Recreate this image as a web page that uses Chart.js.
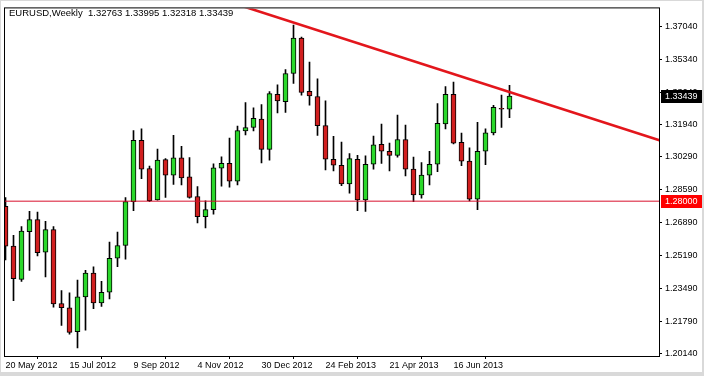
<!DOCTYPE html>
<html><head><meta charset="utf-8">
<script src="https://cdn.jsdelivr.net/npm/chart.js@4/dist/chart.umd.min.js"></script>
<style>html,body{margin:0;padding:0;background:#fff;}canvas{display:block;}</style>
</head><body>
<canvas id="c" width="704" height="376"></canvas>
<script>
// ---- data (EURUSD weekly, one bar per week starting 20 May 2012) ----
const chartTitle = "EURUSD,Weekly  1.32763 1.33995 1.32318 1.33439";
const opens  = [1.2773,1.2568,1.2396,1.2643,1.2705,1.2536,1.2653,1.2271,1.2249,1.2126,1.2305,1.2428,1.2274,1.2329,1.2505,1.2571,
                1.2798,1.3114,1.2969,1.2807,1.3015,1.2935,1.3024,1.2926,1.2824,1.2720,1.2756,1.2971,1.2996,1.2904,1.3163,1.3181,
                1.3225,1.3068,1.3353,1.3314,1.3460,1.3643,1.3368,1.3341,1.3191,1.3017,1.2986,1.2889,1.3017,1.2807,1.2991,1.3094,
                1.3058,1.3037,1.3119,1.2966,1.2833,1.2935,1.2991,1.3199,1.3353,1.3104,1.3007,1.2810,1.3058,1.3153,1.3280,1.32763];
const highs  = [1.2819,1.2624,1.2669,1.2747,1.2744,1.2696,1.2669,1.2338,1.2326,1.2392,1.2443,1.2460,1.2385,1.2588,1.2640,1.2819,
                1.3165,1.3174,1.2981,1.3070,1.3020,1.3140,1.3084,1.3025,1.2875,1.2802,1.2993,1.3029,1.3126,1.3188,1.3310,1.3283,
                1.3299,1.3367,1.3401,1.3481,1.3711,1.3648,1.3519,1.3433,1.3319,1.3135,1.3105,1.3046,1.3037,1.3034,1.3137,1.3199,
                1.3100,1.3245,1.3193,1.3028,1.3000,1.3058,1.3305,1.3392,1.3416,1.3152,1.3076,1.3208,1.3174,1.3296,1.3348,1.33995];
const lows   = [1.2496,1.2286,1.2385,1.2442,1.2517,1.2409,1.2252,1.2158,1.2112,1.2042,1.2133,1.2244,1.2256,1.2295,1.2462,1.2500,
                1.2751,1.2917,1.2798,1.2805,1.2820,1.2887,1.2884,1.2815,1.2687,1.2662,1.2733,1.2877,1.2872,1.2884,1.3143,1.3163,
                1.2998,1.3012,1.3256,1.3259,1.3409,1.3348,1.3296,1.3140,1.2961,1.2957,1.2880,1.2841,1.2751,1.2747,1.2966,1.2995,
                1.2956,1.3028,1.2931,1.2798,1.2815,1.2884,1.2953,1.3173,1.3096,1.2983,1.2802,1.2756,1.2989,1.3143,1.3182,1.32318];
const closes = [1.2568,1.2399,1.2645,1.2705,1.2534,1.2653,1.2269,1.2249,1.2122,1.2305,1.2428,1.2274,1.2329,1.2505,1.2571,1.2798,
                1.3114,1.2966,1.2803,1.3012,1.2935,1.3024,1.2920,1.2820,1.2720,1.2756,1.2972,1.2996,1.2904,1.3165,1.3181,1.3228,
                1.3068,1.3356,1.3319,1.3460,1.3643,1.3362,1.3344,1.3191,1.3017,1.2986,1.2889,1.3020,1.2807,1.2991,1.3092,1.3058,
                1.3037,1.3119,1.2966,1.2833,1.2935,1.2991,1.3203,1.3353,1.3100,1.3007,1.2810,1.3058,1.3153,1.3285,1.3276,1.33439];
const yTickValues = [1.3704,1.3534,1.3364,1.3194,1.3029,1.2859,1.2689,1.2519,1.2349,1.2179,1.2014];
const xTickWeeks  = [0, 8, 16, 24, 32, 40, 48, 56];
const xTickLabels = ["20 May 2012","15 Jul 2012","9 Sep 2012","4 Nov 2012","30 Dec 2012","24 Feb 2013","21 Apr 2013","16 Jun 2013"];
const levelPrice = 1.28;
const lastPrice = 1.33439;
const trendWeeks  = [28, 84];
const trendPrices = [1.3830, 1.3085];

// ---- styling ----
const FONT = "'Liberation Sans', Arial, sans-serif";
const BULL = '#2bd82b', BEAR = '#d11f1f';

const weeks = opens.map((_, i) => i);
const wickData = weeks.map(i => ({x: i, y: [lows[i], highs[i]]}));
const bodyData = weeks.map(i => ({x: i, y: [opens[i], closes[i]]}));
const bodyColors = weeks.map(i => closes[i] >= opens[i] ? BULL : BEAR);

const framePlugin = {
  id: 'frame',
  beforeDraw(chart) {
    const ctx = chart.ctx;
    ctx.save();
    ctx.fillStyle = '#d9d9d9';
    ctx.fillRect(0, 0, chart.width, chart.height);
    ctx.fillStyle = '#ffffff';
    ctx.fillRect(1, 1, 701, 371);
    ctx.restore();
  },
  afterDatasetsDraw(chart) {
    const ctx = chart.ctx, a = chart.chartArea;
    ctx.save();
    ctx.strokeStyle = '#000';
    ctx.lineWidth = 1;
    ctx.strokeRect(a.left - 0.5, a.top - 0.5, a.right - a.left + 1, a.bottom - a.top + 1);
    ctx.restore();
  },
  afterDraw(chart) {
    const ctx = chart.ctx, y = chart.scales.y, a = chart.chartArea;
    ctx.save();
    ctx.font = '9.5px ' + FONT;
    ctx.textBaseline = 'middle';
    ctx.textAlign = 'left';
    ctx.fillStyle = '#000';
    ctx.fillText(chartTitle, 9, 13);
    const boxes = [[lastPrice, '#000000'], [levelPrice, '#ff0000']];
    ctx.font = '9px ' + FONT;
    for (const [v, col] of boxes) {
      const py = Math.round(y.getPixelForValue(v));
      ctx.fillStyle = col;
      ctx.fillRect(a.right + 2, py - 6, 41, 13);
      ctx.fillStyle = '#fff';
      ctx.fillText(v.toFixed(5), a.right + 6, py + 0.5);
    }
    ctx.restore();
  }
};

new Chart(document.getElementById('c'), {
  type: 'bar',
  data: {
    datasets: [
      { type: 'line', data: trendWeeks.map((w, i) => ({x: w, y: trendPrices[i]})),
        borderColor: '#e3161c', borderWidth: 2.6, pointRadius: 0, clip: 0, order: 0 },
      { type: 'line', data: [{x: -1, y: levelPrice}, {x: 90, y: levelPrice}],
        borderColor: '#d8102c', borderWidth: 1, pointRadius: 0, clip: 0, order: 1 },
      { data: bodyData, backgroundColor: bodyColors, borderColor: '#000', borderWidth: 1,
        borderSkipped: false, barThickness: 5, grouped: false, clip: 0, order: 2 },
      { data: wickData, backgroundColor: '#000', borderWidth: 0,
        barThickness: 1, grouped: false, clip: 0, order: 3 }
    ]
  },
  options: {
    responsive: false,
    animation: false,
    devicePixelRatio: 1,
    layout: { padding: { left: 5, top: 5, right: 0, bottom: 0 } },
    plugins: { legend: { display: false }, tooltip: { enabled: false }, title: { display: false } },
    scales: {
      x: {
        type: 'linear', position: 'bottom', min: -0.0625, max: 81.6875, offset: false,
        grid: { drawOnChartArea: false, drawTicks: true, tickLength: 3, tickColor: '#000' },
        border: { display: false },
        afterBuildTicks: s => { s.ticks = xTickWeeks.map(v => ({value: v})); },
        afterFit: s => { s.height = 20; },
        ticks: { autoSkip: false, maxRotation: 0, align: 'start', padding: 1, color: '#000',
                 font: { family: FONT, size: 9 },
                 callback: (v, i) => xTickLabels[i] }
      },
      y: {
        type: 'linear', position: 'right', min: 1.19996, max: 1.37967,
        grid: { drawOnChartArea: false, drawTicks: true, tickLength: 3, tickColor: '#000' },
        border: { display: false },
        afterBuildTicks: s => { s.ticks = yTickValues.map(v => ({value: v})); },
        afterFit: s => { s.width = 45; },
        ticks: { padding: 3, color: '#000', font: { family: FONT, size: 9 },
                 callback: v => Number(v).toFixed(5) }
      }
    }
  },
  plugins: [framePlugin]
});
</script>
</body></html>
